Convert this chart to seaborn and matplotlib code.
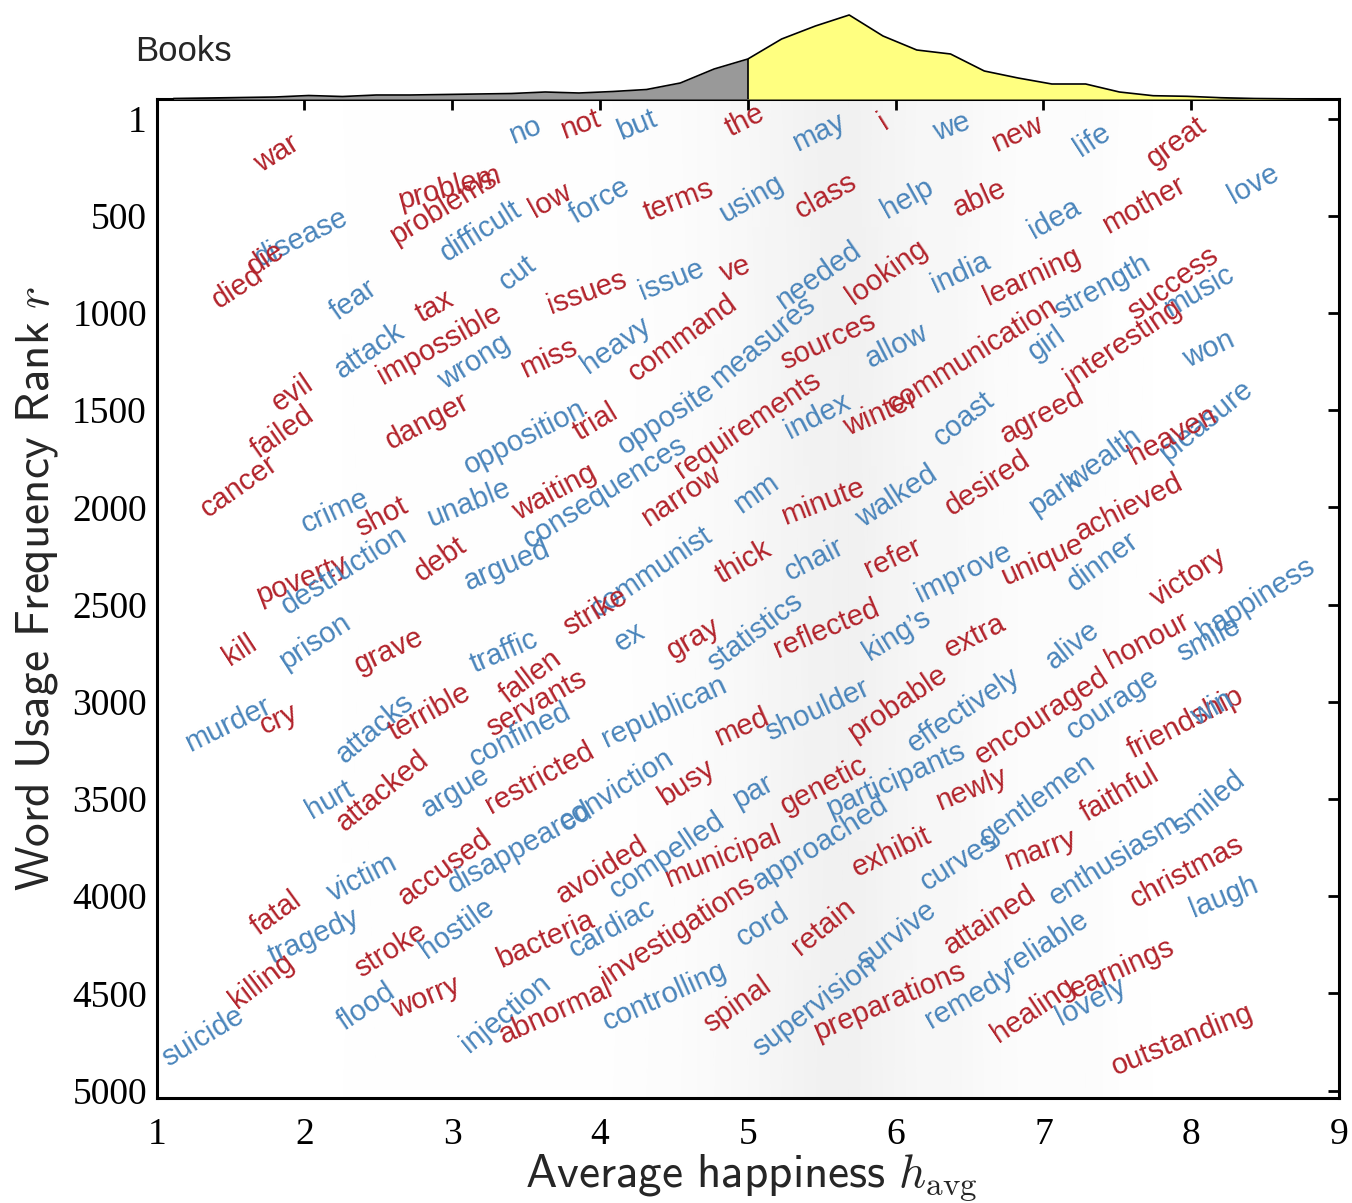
import numpy as np
import pandas as pd
import seaborn as sns
from matplotlib import pyplot as plt
from matplotlib.colors import LinearSegmentedColormap


# word labels (h_avg, rank r, colour group)
words = [
    "war", "no", "not", "but", "the", "may", "i", "we", "new", "life",
    "great", "problem", "problems", "disease", "die", "died", "difficult", "low", "fear", "cut",
    "tax", "force", "terms", "using", "class", "help", "issues", "issue", "ve", "needed",
    "looking", "india", "able", "idea", "mother", "love", "learning", "strength", "success", "music",
    "attack", "impossible", "wrong", "miss", "evil", "failed", "cancer", "danger", "opposition", "crime",
    "shot", "unable", "debt", "argued", "poverty", "destruction", "heavy", "command", "trial", "opposite",
    "measures", "sources", "allow", "requirements", "index", "winter", "communication", "consequences", "waiting", "narrow",
    "mm", "minute", "walked", "communist", "thick", "chair", "refer", "girl", "interesting", "won",
    "coast", "agreed", "pleasure", "heaven", "wealth", "park", "desired", "achieved", "unique", "dinner",
    "victory", "improve", "happiness", "kill", "prison", "grave", "traffic", "fallen", "murder", "cry",
    "attacks", "terrible", "servants", "confined", "hurt", "attacked", "argue", "restricted", "strike", "ex",
    "gray", "statistics", "reflected", "king\u2019s", "republican", "med", "shoulder", "probable", "conviction", "busy",
    "compelled", "par", "genetic", "participants", "extra", "alive", "honour", "smile", "effectively", "encouraged",
    "courage", "friendship", "win", "newly", "gentlemen", "faithful", "smiled", "enthusiasm", "fatal", "victim",
    "accused", "disappeared", "tragedy", "killing", "suicide", "stroke", "hostile", "bacteria", "flood", "worry",
    "injection", "abnormal", "avoided", "municipal", "approached", "exhibit", "cardiac", "investigations", "cord", "retain",
    "survive", "curves", "controlling", "spinal", "supervision", "preparations", "marry", "attained", "christmas", "laugh",
    "reliable", "remedy", "healing", "earnings", "lovely", "outstanding",
]

h_avg = [
    1.81, 3.49, 3.87, 4.25, 4.98, 5.48, 5.92, 6.38, 6.82, 7.33,
    7.90, 2.98, 2.94, 1.98, 1.74, 1.55, 3.19, 3.66, 2.33, 3.44,
    2.88, 4.00, 4.53, 5.02, 5.53, 6.08, 3.91, 4.48, 4.92, 5.48,
    5.94, 6.44, 6.57, 7.07, 7.68, 8.42, 6.92, 7.40, 7.88, 8.05,
    2.44, 2.91, 3.15, 3.65, 1.92, 1.85, 1.56, 2.83, 3.49, 2.21,
    2.52, 3.11, 2.92, 3.37, 1.98, 2.27, 4.11, 4.56, 3.97, 4.45,
    5.10, 5.54, 6.01, 5.00, 5.47, 5.90, 6.52, 4.03, 3.69, 4.55,
    5.06, 5.51, 6.01, 4.35, 4.97, 5.45, 5.98, 7.02, 7.54, 8.12,
    6.46, 6.99, 8.10, 7.87, 7.41, 7.08, 6.62, 7.58, 6.99, 7.40,
    7.98, 6.46, 8.44, 1.56, 2.07, 2.57, 3.35, 3.53, 1.48, 1.83,
    2.48, 2.85, 3.57, 3.46, 2.17, 2.53, 3.02, 3.59, 3.97, 4.20,
    4.63, 5.05, 5.53, 6.01, 4.43, 4.96, 5.47, 6.01, 4.11, 4.58,
    4.45, 5.03, 5.51, 6.00, 6.54, 7.20, 7.70, 8.12, 6.46, 6.99,
    7.47, 7.96, 8.14, 6.51, 6.96, 7.52, 8.12, 7.48, 1.81, 2.39,
    2.95, 3.46, 2.06, 1.71, 1.31, 2.58, 3.03, 3.63, 2.42, 2.82,
    3.36, 3.70, 4.01, 4.83, 5.49, 5.97, 4.08, 4.53, 5.10, 5.51,
    6.01, 6.43, 4.44, 4.93, 5.45, 5.96, 6.98, 6.64, 7.97, 8.22,
    7.02, 6.50, 6.93, 7.53, 7.32, 7.94,
]

rank = [
    181, 61, 30, 35, 10, 70, 18, 46, 78, 113,
    124, 359, 455, 613, 720, 866, 579, 421, 935, 796,
    966, 424, 421, 412, 399, 412, 895, 832, 775, 806,
    792, 791, 412, 515, 447, 335, 810, 866, 849, 887,
    1195, 1163, 1252, 1233, 1414, 1615, 1894, 1560, 1639, 2018,
    2052, 1980, 2266, 2297, 2374, 2322, 1166, 1130, 1560, 1540,
    1150, 1144, 1170, 1577, 1529, 1517, 1217, 1921, 1921, 1940,
    1928, 1971, 1946, 2333, 2280, 2266, 2262, 1157, 1156, 1187,
    1543, 1526, 1555, 1629, 1748, 1928, 1877, 2000, 2275, 2280,
    2358, 2338, 2470, 2733, 2691, 2737, 2745, 2872, 3119, 3088,
    3136, 3054, 3006, 3170, 3504, 3457, 3462, 3391, 2537, 2668,
    2673, 2642, 2626, 2656, 3051, 3128, 3045, 3007, 3453, 3413,
    3787, 3463, 3431, 3402, 2660, 2711, 2686, 2677, 3042, 3076,
    3011, 3110, 3033, 3448, 3504, 3473, 3521, 3813, 4090, 3907,
    3855, 3751, 4210, 4433, 4721, 4275, 4167, 4224, 4567, 4523,
    4601, 4594, 3864, 3796, 3725, 3770, 4164, 4172, 4150, 4155,
    4202, 3823, 4515, 4558, 4567, 4542, 3765, 4121, 3876, 4004,
    4241, 4523, 4587, 4373, 4541, 4738,
]

group = [
    "r", "b", "r", "b", "r", "b", "r", "b", "r", "b",
    "r", "r", "r", "b", "r", "r", "b", "r", "b", "b",
    "r", "b", "r", "b", "r", "b", "r", "b", "r", "b",
    "r", "b", "r", "b", "r", "b", "r", "b", "r", "b",
    "b", "r", "b", "r", "r", "r", "r", "r", "b", "b",
    "r", "b", "r", "b", "r", "b", "b", "r", "r", "b",
    "b", "r", "b", "r", "b", "r", "r", "b", "r", "r",
    "b", "r", "b", "b", "r", "b", "r", "b", "r", "b",
    "b", "r", "b", "r", "b", "b", "r", "r", "r", "b",
    "r", "b", "b", "r", "b", "r", "b", "r", "b", "r",
    "b", "r", "r", "b", "b", "r", "b", "r", "r", "b",
    "r", "b", "r", "b", "b", "r", "b", "r", "b", "r",
    "b", "b", "r", "b", "r", "b", "r", "b", "b", "r",
    "b", "r", "b", "r", "b", "r", "b", "b", "r", "b",
    "r", "b", "b", "r", "b", "r", "b", "r", "b", "r",
    "b", "r", "r", "r", "b", "r", "b", "r", "b", "r",
    "b", "b", "b", "r", "b", "r", "r", "r", "r", "b",
    "b", "b", "r", "r", "b", "r",
]

# text rotation of each word label (degrees)
label_angle = [
    32, 22, 20, 22, 27, 26, 32, 20, 24, 33,
    36, 15, 31, 26, 33, 33, 32, 29, 35, 37,
    29, 30, 21, 30, 29, 29, 20, 22, 20, 35,
    35, 25, 24, 29, 29, 29, 25, 29, 36, 30,
    34, 29, 32, 25, 34, 35, 35, 28, 27, 24,
    28, 22, 35, 23, 21, 32, 35, 36, 31, 33,
    40, 25, 27, 34, 27, 23, 32, 32, 28, 33,
    35, 21, 33, 34, 30, 27, 25, 35, 34, 25,
    39, 28, 39, 28, 36, 34, 33, 27, 24, 36,
    33, 26, 32, 33, 33, 25, 23, 37, 26, 24,
    40, 29, 29, 27, 30, 39, 31, 29, 30, 32,
    30, 37, 23, 32, 25, 24, 25, 34, 32, 33,
    34, 29, 28, 24, 27, 38, 28, 27, 34, 33,
    34, 27, 29, 22, 36, 30, 39, 32, 36, 27,
    36, 29, 25, 37, 31, 32, 35, 24, 34, 22,
    39, 24, 32, 22, 32, 25, 29, 33, 32, 39,
    38, 32, 24, 35, 37, 23, 20, 33, 28, 22,
    33, 30, 34, 24, 27, 22,
]

# distribution of h_avg shown above the panel (35 bins on 1..9)
dist_height = [
    0.5, 1, 1.5, 2, 3.5, 2.5, 4, 4, 4.5, 5,
    5.5, 7, 6, 7.5, 9.5, 16, 30, 40, 60, 73,
    84, 63, 49, 45, 28, 21, 15, 15, 7, 3.3,
    2.7, 1.3, 0.5, 0.2, 0,
]

COLORS = {"r": "#b2232b", "b": "#4a85bb"}


def main() -> None:
    sns.set_theme(style="white")
    plt.rcParams["font.family"] = ["Liberation Sans", "DejaVu Sans"]
    plt.rcParams["mathtext.fontset"] = "cm"

    df = pd.DataFrame({"word": words, "h": h_avg, "rank": rank,
                       "group": group, "angle": label_angle})

    edges = np.linspace(1, 9, len(dist_height) + 1)
    centers = 0.5 * (edges[:-1] + edges[1:])
    dist = pd.DataFrame({"h": centers, "height": dist_height})

    fig = plt.figure(figsize=(13.52, 12.03), dpi=100)
    ax = fig.add_axes([0.1159, 0.0869, 0.8745, 0.8308])
    ax_top = fig.add_axes([0.1159, 0.9177, 0.8745, 0.074])

    # faint haze where the background words crowd together
    haze = LinearSegmentedColormap.from_list("haze", ["white", "#c8c8c8"])
    ax.pcolormesh(centers, [-100, 5040], np.array([dist_height, dist_height]),
                  cmap=haze, vmin=0, vmax=320, shading="gouraud",
                  zorder=0, rasterized=True)

    for row in df.itertuples():
        ax.text(row.h, row.rank, row.word, color=COLORS[row.group],
                rotation=row.angle, rotation_mode="anchor",
                ha="center", va="center", fontsize=21, zorder=3)

    ax.set_xlim(1, 9)
    ax.set_ylim(5040, -100)
    ax.set_xticks(range(1, 10))
    ax.set_yticks([1, 500, 1000, 1500, 2000, 2500, 3000, 3500, 4000, 4500, 5000])
    ax.tick_params(direction="in", length=8, width=2, top=True, right=True,
                   labelsize=27, colors="black")
    ax.tick_params(axis="x", pad=14)
    ax.tick_params(axis="y", pad=7)
    for lab in ax.get_xticklabels() + ax.get_yticklabels():
        lab.set_fontfamily("Liberation Serif")
    for sp in ax.spines.values():
        sp.set_color("black")
        sp.set_linewidth(2.2)

    ax.set_xlabel(r"$\mathsf{Average\ happiness}\ h_{\rm avg}$", fontsize=34)
    ax.set_ylabel(r"$\mathsf{Word\ Usage\ Frequency\ Rank}\ r$", fontsize=34)
    ax.xaxis.set_label_coords(0.503, -0.055)
    ax.yaxis.set_label_coords(-0.082, 0.51)

    # happiness distribution on top
    left = dist[dist["h"] <= 5]
    right = dist[dist["h"] >= 5]
    ax_top.fill_between(left["h"], 0, left["height"], color="#999999", lw=0)
    ax_top.fill_between(right["h"], 0, right["height"], color="#ffff80", lw=0)
    sns.lineplot(data=dist, x="h", y="height", color="black", lw=1.2,
                 estimator=None, ax=ax_top)
    mid = dist.loc[dist["h"].sub(5).abs().idxmin(), "height"]
    ax_top.vlines(5, 0, mid, color="black", lw=1.2)
    ax_top.set_xlim(1, 9)
    ax_top.set_ylim(0, 89)
    ax_top.axis("off")

    fig.text(0.0999, 0.9568, "Books", fontsize=25, va="center", ha="left")

    fig.savefig("out.png", dpi=100)
    plt.close(fig)


if __name__ == "__main__":
    assert len(words) == len(h_avg) == len(rank) == len(group) == len(label_angle)
    main()
